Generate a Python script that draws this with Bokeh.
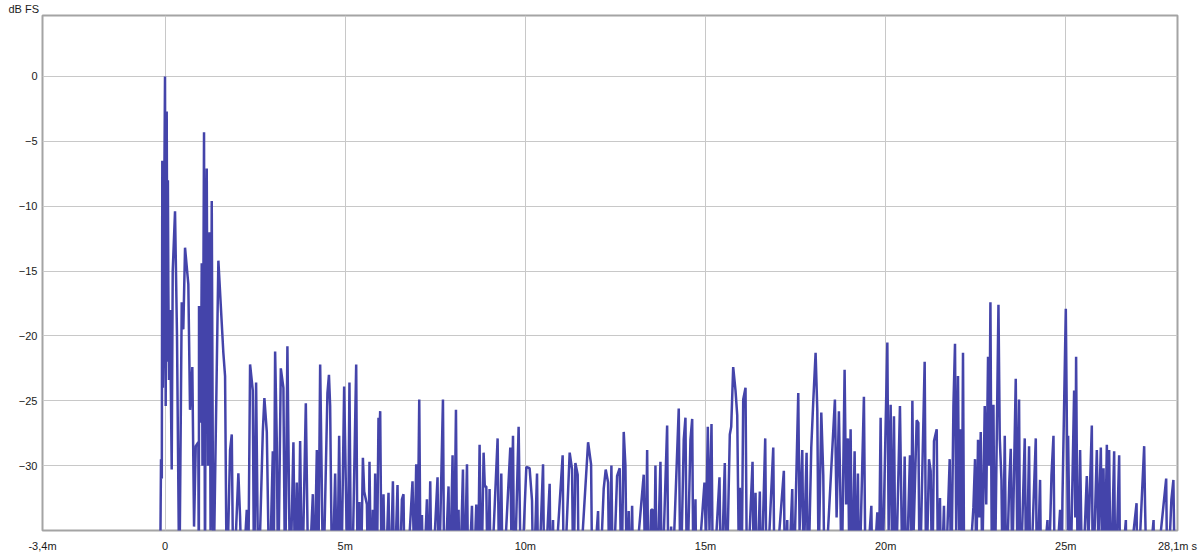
from bokeh.plotting import figure
from bokeh.models import FixedTicker, Range1d
from bokeh.embed import file_html
from bokeh.resources import INLINE

# time (ms), level (dB FS)
seg_direct = [(-3.4,-40),(-0.139,-40),(-0.111,-29.5),(-0.089,-31),(-0.075,-6.5),(-0.06,-24),(-0.042,-20),(-0.02,-9),
    (0.0,0),(0.019,-25.4),(0.03,-12),(0.047,-2.7),(0.069,-22),(0.08,-8),(0.092,-16),(0.111,-23.4),(0.139,-18),(0.186,-30.3),
    (0.214,-15),(0.278,-10.4),(0.333,-20),(0.397,-40),(0.464,-17.4),(0.508,-19.5),(0.556,-13.2),(0.647,-16),(0.694,-25.7),
    (0.758,-22.4),(0.806,-34.7),(0.853,-28.5),(0.925,-28.2),(0.939,-40),(0.944,-17.7),(0.992,-26.7),(1.019,-14.4),
    (1.04,-30),(1.056,-22),(1.083,-4.3),(1.1,-28),(1.111,-40),(1.13,-15),(1.158,-7.1),(1.194,-30),(1.236,-12),
    (1.264,-35),(1.297,-9.6),(1.342,-40)]

seg_early = [(1.481,-14.2),(1.619,-21.3),(1.667,-23.1),(1.714,-40),(1.806,-28.8),(1.853,-27.6),(1.897,-40),(2.036,-30.6),
    (2.083,-33.9),(2.139,-40),(2.269,-33.4),(2.306,-40),(2.361,-22.2),(2.436,-24.2),(2.472,-40),(2.528,-23.6),(2.592,-40),
    (2.714,-27.4),(2.758,-24.8),(2.825,-27.4),(2.897,-40),(2.992,-28.9),(3.014,-40),(3.056,-21.2),(3.103,-28.2),(3.139,-40),
    (3.214,-22.5),(3.286,-24),(3.333,-40),(3.397,-20.8),(3.472,-40),(3.564,-28.2),(3.611,-40),(3.658,-31.3),(3.694,-40),
    (3.75,-28.1),(3.806,-40),(3.908,-25.2),(3.981,-40),(4.103,-32.2),(4.139,-40),(4.214,-28.8),(4.25,-40),(4.306,-22.2),
    (4.353,-31.8),(4.389,-40),(4.508,-24.4),(4.55,-23),(4.583,-25.4),(4.639,-40)]

seg_mid = [(4.722,-30.6),(4.778,-40),(4.833,-27.7),(4.889,-40),(4.972,-23.9),(5.028,-33),(5.069,-40),(5.119,-23.6),
    (5.167,-40),(5.222,-35),(5.306,-22.2),(5.347,-40),(5.397,-32.8),(5.431,-40),(5.492,-29.4),(5.528,-32),(5.603,-33),
    (5.639,-40),(5.675,-29.7),(5.722,-40),(5.769,-33.4),(5.792,-40),(5.833,-30.6),(5.875,-40),(5.925,-26.3),(5.944,-28),
    (5.972,-25.8),(6.014,-40),(6.064,-32.2),(6.111,-40),(6.203,-32.1),(6.25,-40),(6.325,-31.2),(6.361,-40),(6.453,-31.5),
    (6.5,-40),(6.575,-32.6),(6.619,-32.2),(6.653,-40),(6.694,-40),(6.869,-31.2),(6.917,-38),(6.972,-29.9),(7.014,-36),
    (7.056,-24.9),(7.097,-40),(7.131,-33.8),(7.167,-40),(7.269,-32.6),(7.306,-40),(7.361,-31.2),(7.403,-40),(7.564,-30.9),
    (7.597,-40),(7.714,-24.9),(7.75,-40),(7.869,-31.6),(7.903,-40),(7.981,-29.2),(8.014,-40),(8.075,-25.7),(8.111,-40),
    (8.147,-33.4),(8.181,-40),(8.269,-30.3),(8.306,-40),(8.381,-29.9),(8.417,-40),(8.519,-33.1),(8.556,-40),(8.639,-33),
    (8.681,-40),(8.731,-28.4),(8.778,-40),(8.842,-29),(8.875,-31.6),(8.917,-31.6),(8.958,-40),(9.008,-31.8),(9.042,-40),
    (9.231,-27.9),(9.278,-40),(9.333,-30.6),(9.375,-40),(9.583,-28.6),(9.611,-35),(9.658,-27.7),(9.694,-40),(9.814,-27),
    (9.881,-40)]

seg_late1 = [(10.028,-30.1),(10.119,-30.2),(10.186,-32.7),(10.222,-40),(10.325,-30.6),(10.361,-40),(10.492,-29.9),
    (10.528,-40),(10.675,-31.4),(10.708,-40),(10.769,-34.2),(10.792,-40),(11.036,-29.2),(11.069,-40),(11.231,-29),
    (11.297,-30.3),(11.333,-40),(11.389,-29.8),(11.453,-30.7),(11.486,-40),(11.742,-28.2),(11.825,-29.9),(11.861,-40),
    (12.019,-33.5),(12.056,-40),(12.175,-31.8),(12.231,-30.3),(12.297,-31.3),(12.333,-40),(12.389,-30),(12.431,-40),
    (12.547,-30.8),(12.619,-30.2),(12.667,-40),(12.731,-27.4),(12.778,-30),(12.819,-40),(12.869,-33.5),(12.903,-40),
    (12.964,-33.1),(13.0,-40),(13.286,-30.7),(13.333,-40),(13.381,-28.8),(13.417,-40),(13.492,-33.4),(13.536,-33.4),
    (13.569,-40),(13.611,-30),(13.653,-40),(13.75,-29.7),(13.792,-40),(13.936,-26.9),(13.972,-40),(14.047,-34.7),
    (14.069,-40),(14.258,-25.6),(14.306,-40),(14.397,-28),(14.444,-26.3),(14.486,-40),(14.583,-28),(14.631,-26.4),
    (14.667,-40),(14.722,-32.6),(14.75,-40),(14.972,-31.3),(15.014,-36),(15.064,-27),(15.111,-35),(15.167,-26.8),
    (15.208,-40),(15.389,-30.9),(15.431,-40),(15.536,-29.8),(15.583,-40),(15.675,-27.6),(15.714,-27),(15.769,-22.4),
    (15.833,-24.2),(15.881,-26.1),(15.917,-35),(15.953,-31.7),(16.0,-40)]

seg_late2 = [(16.047,-24.9),(16.111,-24),(16.153,-40),(16.306,-29.7),(16.347,-40),(16.389,-32.1),(16.431,-40),
    (16.508,-32),(16.542,-40),(16.658,-27.9),(16.694,-40),(16.881,-28.6),(16.917,-40),(17.175,-30.4),(17.208,-40),
    (17.269,-34.2),(17.292,-40),(17.408,-31.8),(17.444,-40),(17.575,-24.4),(17.611,-35),(17.686,-28.8),(17.722,-38),
    (17.806,-29),(17.847,-40),(17.936,-28.6),(17.992,-25),(18.056,-21.3),(18.103,-25.7),(18.139,-38),(18.214,-25.9),
    (18.269,-30.7),(18.306,-40),(18.592,-24.9),(18.639,-34),(18.703,-25.8),(18.75,-33.4),(18.778,-40),(18.861,-22.6),
    (18.903,-33),(18.953,-27.9),(18.986,-36),(19.028,-27.2),(19.069,-40),(19.139,-28.9),(19.181,-40),(19.231,-30.6),
    (19.264,-40),(19.397,-24.7),(19.444,-40),(19.603,-33.1),(19.639,-40),(19.769,-33.6),(19.806,-40),(19.861,-26.3),
    (19.903,-40),(20.047,-20.5),(20.083,-35),(20.139,-25.3),(20.181,-38),(20.231,-26.2),(20.278,-40),(20.397,-25.4),
    (20.431,-32),(20.472,-40),(20.528,-29.3),(20.569,-40),(20.675,-29.2),(20.708,-36),(20.742,-25),(20.778,-35),
    (20.861,-26.5),(20.908,-26.7),(20.944,-40),(21.083,-22),(21.125,-40),(21.203,-29.5),(21.25,-30.4),(21.292,-40),
    (21.342,-28.1),(21.417,-27.2),(21.458,-40),(21.508,-32.5),(21.542,-40),(21.619,-33.1),(21.653,-40),(21.778,-29.5),
    (21.819,-40),(21.881,-25.4),(21.925,-20.6),(21.958,-35),(22.008,-23.1),(22.042,-35),(22.083,-27.2),(22.111,-38),
    (22.147,-21.3),(22.181,-40)]

seg_late3 = [(22.286,-40),(22.436,-33.2),(22.481,-29.5),(22.514,-38),(22.564,-28),(22.597,-34),(22.639,-27.4),
    (22.681,-38),(22.75,-25.4),(22.792,-33),(22.842,-21.6),(22.875,-30),(22.908,-17.4),(22.944,-36),(22.992,-25.3),
    (23.028,-40),(23.131,-17.6),(23.167,-27.9),(23.214,-31.1),(23.25,-40),(23.306,-27.7),(23.347,-40),(23.431,-31.3),
    (23.472,-28.7),(23.514,-38),(23.611,-23.3),(23.653,-36),(23.703,-24.9),(23.736,-40),(23.861,-27.9),(23.903,-40),
    (23.981,-28.5),(24.014,-40),(24.167,-27.9),(24.2,-40),(24.286,-31.1),(24.319,-40),(24.492,-34.2),(24.514,-40),
    (24.603,-30.7),(24.658,-27.7),(24.694,-40),(24.842,-33.4),(24.889,-38),(24.907,-32.6),(25.0,-17.9),(25.056,-35),
    (25.064,-27.7),(25.125,-40),(25.231,-24.2),(25.264,-34),(25.286,-21.6),(25.333,-40),(25.397,-28.8),(25.458,-40),
    (25.583,-30.8),(25.625,-36),(25.722,-26.9),(25.75,-40),(25.861,-28.8),(25.903,-36),(25.972,-28.6),(26.0,-36),
    (26.047,-30.2),(26.083,-38),(26.139,-28.4),(26.175,-36),(26.203,-28.8),(26.25,-40),(26.342,-28.9),(26.375,-40),
    (26.481,-29.2),(26.51,-40),(26.667,-34.2),(26.69,-40),(26.964,-32.9),(26.986,-40),(27.175,-28.5),(27.2,-33.1),
    (27.25,-40),(27.436,-34.2),(27.458,-40),(27.786,-31),(27.819,-40),(27.931,-32.6),(27.986,-31.1),(28.03,-40),(28.1,-40)]

x_ticks = [-3.4, 0, 5, 10, 15, 20, 25, 28.1]
x_tick_labels = ["-3,4m", "0", "5m", "10m", "15m", "20m", "25m", "28,1m s"]
y_ticks = [0, -5, -10, -15, -20, -25, -30]
y_unit = "dB FS"

trace = seg_direct + seg_early + seg_mid + seg_late1 + seg_late2 + seg_late3
t_ms = [a for a, b in trace]
lvl = [b for a, b in trace]

FONT = "Liberation Sans"
p = figure(width=1200, height=556, output_backend="svg", toolbar_location=None,
           x_range=Range1d(-3.4, 28.1), y_range=Range1d(-35, 4.7),
           min_border_left=42, min_border_right=23, min_border_top=15, min_border_bottom=26,
           title=y_unit)
p.title.align = "left"
p.title.offset = -34
p.title.standoff = 1
p.title.text_font = FONT
p.title.text_font_size = "11px"
p.title.text_font_style = "normal"
p.title.text_color = "#1a1a1a"

p.background_fill_color = "white"
p.border_fill_color = "white"
p.outline_line_color = "#a4a4a4"
p.outline_line_width = 2

p.line(t_ms, lvl, line_color="#4444aa", line_width=2.5)

for ax in (p.xaxis[0], p.yaxis[0]):
    ax.axis_line_color = None
    ax.major_tick_line_color = None
    ax.minor_tick_line_color = None
    ax.major_tick_out = 0
    ax.major_tick_in = 0
    ax.major_label_text_font = FONT
    ax.major_label_text_font_size = "11px"
    ax.major_label_text_color = "#1a1a1a"

p.xaxis.ticker = FixedTicker(ticks=x_ticks)
p.xaxis.major_label_overrides = {t: l for t, l in zip(x_ticks, x_tick_labels)}
p.xaxis.major_label_standoff = 9
p.yaxis.ticker = FixedTicker(ticks=y_ticks)
p.yaxis.major_label_standoff = 5

p.xgrid.ticker = FixedTicker(ticks=[0, 5, 10, 15, 20, 25])
p.ygrid.ticker = FixedTicker(ticks=y_ticks)
for g in (p.xgrid[0], p.ygrid[0]):
    g.grid_line_color = "#c8c8c8"
    g.grid_line_width = 1

open("out.html", "w").write(file_html(p, INLINE))
